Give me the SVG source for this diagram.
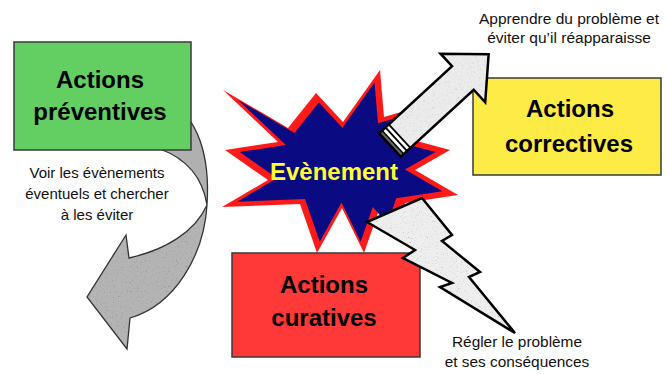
<svg xmlns="http://www.w3.org/2000/svg" width="669" height="375" viewBox="0 0 669 375">
<style>
.title{font-family:"Liberation Sans",Arial,sans-serif;font-weight:bold;font-size:24px;fill:#000;text-anchor:middle}
.note{font-family:"Liberation Sans",Arial,sans-serif;font-size:15px;fill:#111;text-anchor:middle}
.box{stroke:#3a3a3a;stroke-width:1.5}
.outline{fill:none;stroke:#000;stroke-width:2.5;stroke-linejoin:miter}
</style>
<defs>
<filter id="grain" x="-5%" y="-5%" width="110%" height="110%">
<feTurbulence type="fractalNoise" baseFrequency="0.8" numOctaves="2" seed="4" result="n"/>
<feColorMatrix in="n" type="matrix" values="0.33 0.33 0.33 0 0 0.33 0.33 0.33 0 0 0.33 0.33 0.33 0 0 0 0 0 0 1" result="g"/>
<feComponentTransfer in="g" result="g2"><feFuncR type="linear" slope="1.8" intercept="0.2"/><feFuncG type="linear" slope="1.8" intercept="0.2"/><feFuncB type="linear" slope="1.8" intercept="0.2"/></feComponentTransfer>
<feBlend in="g2" in2="SourceGraphic" mode="multiply" result="m"/>
<feComposite in="m" in2="SourceGraphic" operator="in"/>
</filter>
<polygon id="burst" points="223,90 288,128 316,93 343,122 380,70 384,117 425,105 413,140 450,150 415,170 458,195 405,203 395,232 378,213 364,253 342,208 317,253 300,204 222,207 268,180 225,150 278,142"/>
</defs>

<g id="connectors">
<g id="curved-arrow">
<path d="M165,100 C200,115 210,160 207,205 C203,180 190,160 160,149 L150,110 Z" fill="#b0b0b0" stroke="#333" stroke-width="1.3"/>
<path d="M207,205 C204,255 175,305 130,318 L127,349 L87,297 L126,235 L129,258 C165,250 195,232 207,205 Z" fill="#b4b4b4" filter="url(#grain)"/>
<path d="M207,205 C204,255 175,305 130,318 L127,349 L87,297 L126,235 L129,258 C165,250 195,232 207,205 Z" fill="none" stroke="#333" stroke-width="1.3"/>
</g>
</g>

<g id="node-preventives">
<rect x="14" y="42" width="177" height="108" fill="#63cf63" class="box"/>
<text class="title" x="100" y="88">Actions</text>
<text class="title" x="100" y="120">préventives</text>
</g>
<g id="label-preventives">
<text class="note" x="97" y="178">Voir les évènements</text>
<text class="note" x="97" y="199">éventuels et chercher</text>
<text class="note" x="97" y="220">à les éviter</text>
</g>

<g id="node-evenement">
<use href="#burst" fill="#ff1a1a"/>
<use href="#burst" fill="#0a0a82" transform="translate(338,166) scale(0.87) translate(-338,-166)"/>
<text class="title" x="334" y="180" style="fill:#ffff33">Evènement</text>
</g>

<g id="node-curatives">
<rect x="232" y="253" width="188" height="104" fill="#ff3838" class="box"/>
<text class="title" x="324" y="293">Actions</text>
<text class="title" x="324" y="326">curatives</text>
</g>

<g id="node-correctives">
<rect x="473" y="78" width="188" height="97" fill="#fcec45" class="box"/>
<text class="title" x="570" y="117">Actions</text>
<text class="title" x="569" y="152">correctives</text>
</g>

<g id="connectors-2">
<g id="arrow-up" transform="translate(390,145) rotate(-42.6)">
<path d="M0,-16 L99,-16 L99,-33 L134,0 L99,33 L99,16 L0,16 Z" fill="#ececec" filter="url(#grain)"/>
<rect x="0" y="-16" width="4" height="32" fill="#666"/>
<rect x="4" y="-16" width="9" height="32" fill="#fff"/>
<line x1="8.5" y1="-16" x2="8.5" y2="16" stroke="#000" stroke-width="1.8"/>
<line x1="13" y1="-16" x2="13" y2="16" stroke="#000" stroke-width="1.8"/>
<line x1="4" y1="-16" x2="4" y2="16" stroke="#000" stroke-width="1.5"/>
<path class="outline" d="M0,-16 L99,-16 L99,-33 L134,0 L99,33 L99,16 L0,16 Z"/>
</g>
<g id="bolt">
<polygon points="367,222 422,198 452,235 442,241 480,272 469,277 515,333 440,287 452,283 403,258 415,250" fill="#eeeeee" filter="url(#grain)"/>
<polygon class="outline" points="367,222 422,198 452,235 442,241 480,272 469,277 515,333 440,287 452,283 403,258 415,250"/>
</g>
</g>

<g id="label-correctives">
<text class="note" x="569" y="24" style="font-size:15.5px">Apprendre du problème et</text>
<text class="note" x="569" y="43" style="font-size:15.5px">éviter qu’il réapparaisse</text>
</g>
<g id="label-curatives">
<text class="note" x="517" y="347" style="font-size:15.4px">Régler le problème</text>
<text class="note" x="517" y="367" style="font-size:15.4px">et ses conséquences</text>
</g>
</svg>
